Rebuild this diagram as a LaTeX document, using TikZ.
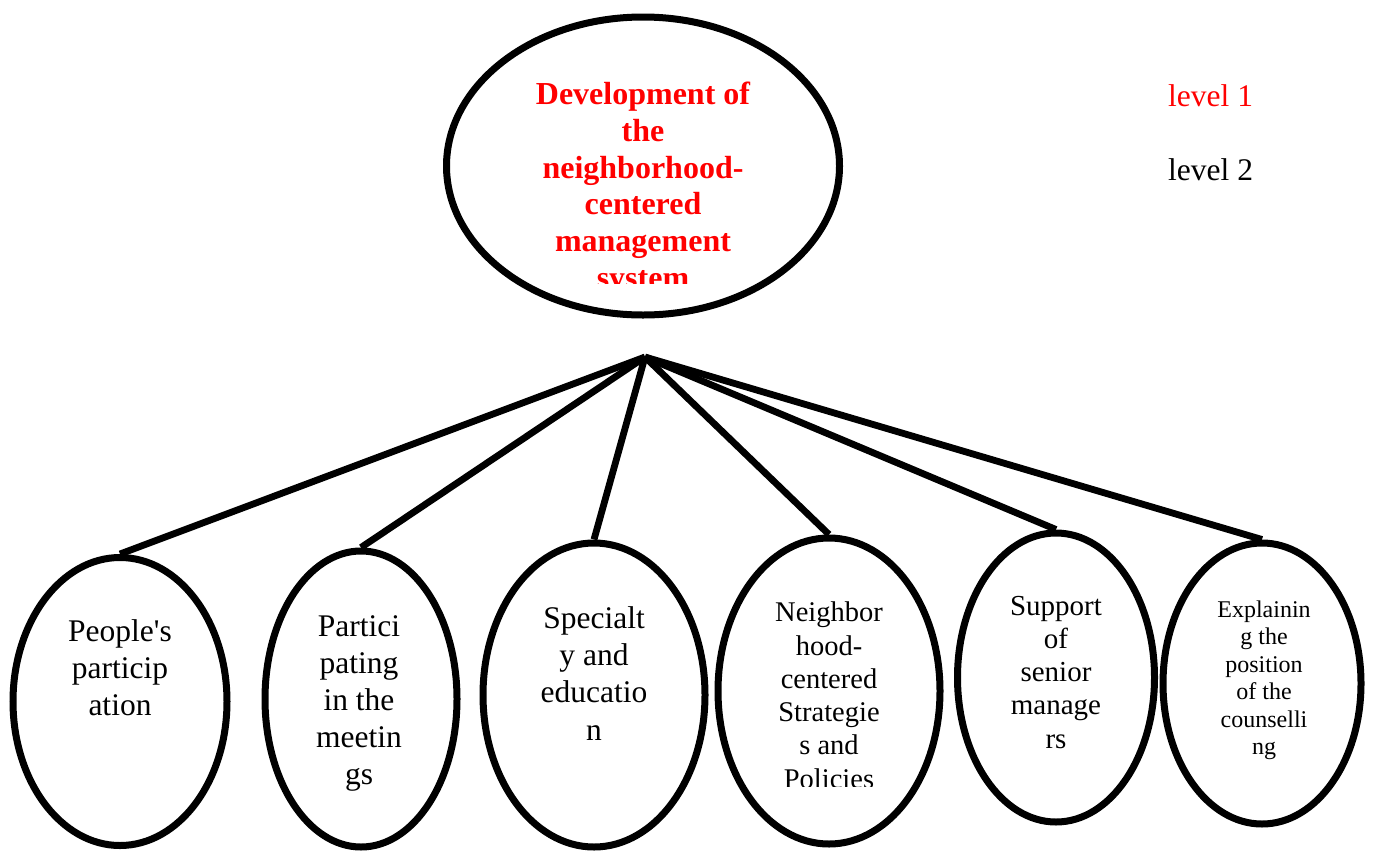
\documentclass[tikz,border=0pt]{standalone}
\usepackage{fontspec}
\setmainfont{Liberation Serif}
\usetikzlibrary{shapes.geometric}
\tikzset{
  oval/.style={draw=black, line width=7pt, ellipse, inner sep=0pt},
  link/.style={draw=black, line width=6.8pt, line join=round},
  txt/.style={anchor=base, inner sep=0pt},
}
\newcommand{\ovaltext}[6]{% name, x, y0, step, font, list
  \foreach \t [count=\k] in {#6} {
    \node[txt, font=#5] (#1-\k) at (#2, {#3+(\k-1)*#4}) {\t};
  }
}
\begin{document}
\begin{tikzpicture}[x=1pt, y=-1pt]
\useasboundingbox (0,0) rectangle (1378,852);
\fill[white] (0,0) rectangle (1378,852);

% top ellipse
\node[oval, minimum width=393pt, minimum height=298pt] (top) at (643,166) {};
\begin{scope}
  \clip (440,14) rectangle (850,283);
  \ovaltext{tt}{643}{104.5}{36.8}{\fontsize{32}{37}\selectfont\bfseries\color{red}}{Development of,the,neighborhood-,centered,management,system}
\end{scope}

% level labels
\node[txt, anchor=base west, font=\fontsize{31.5}{37}\selectfont, text=red] (lv1) at (1168,106.5) {level 1};
\node[txt, anchor=base west, font=\fontsize{31.5}{37}\selectfont] (lv2) at (1168,180.5) {level 2};

% bottom ellipses
\node[oval, minimum width=214pt, minimum height=288pt] (e1) at (120,701.5) {};
\node[oval, minimum width=192pt, minimum height=296pt] (e2) at (361,699) {};
\node[oval, minimum width=222pt, minimum height=304pt] (e3) at (594,695) {};
\node[oval, minimum width=222pt, minimum height=306pt] (e4) at (829,691) {};
\node[oval, minimum width=197pt, minimum height=289pt] (e5) at (1056,677.5) {};
\node[oval, minimum width=198pt, minimum height=281pt] (e6) at (1262,683.5) {};

% texts
\ovaltext{a}{120}{641.7}{36.7}{\fontsize{31.5}{37}\selectfont}{People\textquotesingle s,particip,ation}
\ovaltext{b}{359}{636.7}{37}{\fontsize{31.5}{37}\selectfont}{Partici,pating,in the,meetin,gs}
\ovaltext{c}{594}{628.3}{37.3}{\fontsize{31.5}{37}\selectfont}{Specialt,y and,educatio,n}
\begin{scope}
  \clip (700,540) rectangle (960,786.5);
  \ovaltext{d}{829}{621.7}{33.3}{\fontsize{28.5}{33}\selectfont}{Neighbor,hood-,centered,Strategie,s and,Policies}
\end{scope}
\ovaltext{e}{1056}{615}{33.3}{\fontsize{29}{34}\selectfont}{Support,of,senior,manage,rs}
\ovaltext{f}{1264}{617.3}{27.5}{\fontsize{24}{28}\selectfont}{Explainin,g the,position,of the,counselli,ng}

% connectors
\coordinate (hub) at (645,357);
\foreach \n in {e1,e2,e3,e4,e5,e6} {
  \draw[link] (hub) -- (\n.north);
}
\end{tikzpicture}
\end{document}
